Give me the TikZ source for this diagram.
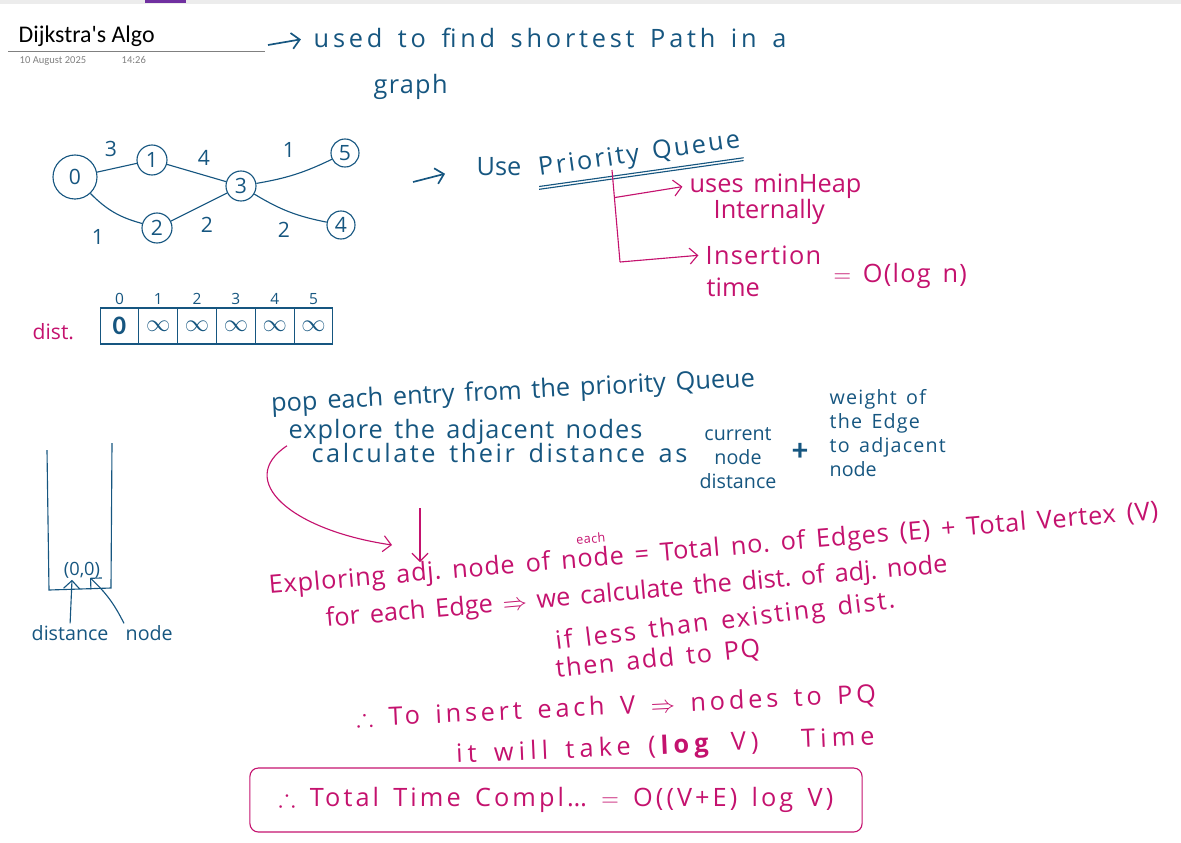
\documentclass[tikz,border=0pt]{standalone}
\usepackage{amsmath,amssymb}
\usepackage{fontspec}
\setmainfont{Carlito}
\newfontfamily\handfont{Open Sans}[WordSpace=1.5]
\newcommand{\track}[1]{\addfontfeatures{LetterSpace=#1}}
\usetikzlibrary{arrows.meta,positioning,calc}
\definecolor{ink}{RGB}{22,86,128}
\definecolor{pen}{RGB}{196,18,110}
\definecolor{tabline}{RGB}{112,48,160}

\begin{document}
\begin{tikzpicture}[x=0.025cm,y=-0.025cm,
  every node/.style={inner sep=1pt},
  hand/.style={font=\handfont\fontsize{18}{22}\selectfont,anchor=base west},
  blu/.style={hand,text=ink},
  pnk/.style={hand,text=pen},
  small/.style={font=\handfont\fontsize{14}{17}\selectfont},
  vtx/.style={draw=ink,circle,thick,minimum size=0.75cm,inner sep=0pt,text=ink,font=\handfont\fontsize{15}{15}\selectfont},
  wt/.style={text=ink,font=\handfont\fontsize{15}{15}\selectfont},
  cell/.style={draw=ink,thick,minimum width=0.97cm,minimum height=0.9cm,text=ink,font=\fontsize{19}{19}\selectfont},
  idx/.style={text=ink,font=\handfont\fontsize{11}{11}\selectfont},
  arr/.style={-{Straight Barb[length=2mm]},thick},
  edge/.style={draw=ink,thick}
]
  \useasboundingbox (0,0) rectangle (1181,842);
  \fill[gray!15] (0,0) rectangle (1181,4);
  \fill[tabline] (145,0) rectangle (186,3);

  \node[font=\fontsize{17}{20}\selectfont,anchor=base west] (title) at (17,42) {Dijkstra\textquotesingle s Algo};
  \draw[gray] (8,51) -- (265,51);
  \node[font=\fontsize{7.5}{9}\selectfont,text=gray,anchor=base west] (date) at (18,63) {10 August 2025};
  \node[font=\fontsize{7.5}{9}\selectfont,text=gray,anchor=base west] (clock) at (120,63) {14:26};

  \node[blu] (used) at (312,47) {\track{15}used to find shortest Path in a};
  \node[blu] (graph) at (372,93) {\track{5}graph};
  \coordinate (a0) at (268,45);
  \draw[arr,ink,line width=1.2pt,shorten >=8pt] (a0) -- (used.west);

  \node[vtx,minimum size=1.1cm] (n0) at (75,177) {0};
  \node[vtx] (n1) at (152,160) {1};
  \node[vtx] (n2) at (157,228) {2};
  \node[vtx] (n3) at (241,186) {3};
  \node[vtx,minimum size=0.7cm] (n5) at (345,153) {5};
  \node[vtx,minimum size=0.7cm] (n4) at (341,225) {4};
  \draw[edge] (n0) -- (n1);
  \draw[edge] (n0) to[bend right=15] (n2);
  \draw[edge] (n1) -- (n3);
  \draw[edge] (n2) -- (n3);
  \draw[edge] (n3) to[bend right=8] (n5);
  \draw[edge] (n3) to[bend right=10] (n4);
  \node[wt] (w01) at (111,149) {3};
  \node[wt] (w13) at (204,158) {4};
  \node[wt] (w35) at (289,150) {1};
  \node[wt] (w02) at (98,237) {1};
  \node[wt] (w23) at (207,225) {2};
  \node[wt] (w34) at (284,230) {2};

  \node[pnk,font=\handfont\fontsize{15}{15}\selectfont] (dist) at (31,339) {dist.};
  \foreach \v [count=\i from 0] in {$\mathbf{0}$,$\infty$,$\infty$,$\infty$,$\infty$,$\infty$}{
    \node[cell] (c\i) at (119.5+38.8*\i,326) {\v};
    \node[idx,above=1pt of c\i] (i\i) {\i};
  }

  \coordinate (a1) at (413,182);
  \node[blu] (use) at (475,175) {Use};
  \draw[arr,ink,line width=1.2pt,shorten >=22pt] (a1) -- (use.west);
  \node[blu,rotate=8] (pq) at (538,176) {\track{9}Priority Queue};
  \draw[ink,thick] ([yshift=-2pt]pq.south west) -- ([yshift=-2pt]pq.south east);
  \draw[ink,thick] ([yshift=-4pt]pq.south west) -- ([yshift=-4pt]pq.south east);

  \coordinate (b0) at (612,170);
  \coordinate (b1) at (620,262);
  \node[pnk] (heap) at (688,192) {uses minHeap};
  \node[pnk] (intl) at (712,218) {Internally};
  \node[pnk] (ins) at (704,264) {\track{5}Insertion};
  \node[pnk] (tm) at (705,296) {time};
  \node[pnk] (ologn) at (832,282) {\track{5}$=$ O(log n)};
  \draw[pen,thick] (b0) -- (b1);
  \draw[arr,pen,shorten >=4pt] ($(b0)!0.3!(b1)$) -- (heap.west);
  \draw[arr,pen,shorten >=4pt] (b1) -- (ins.west);

  \node[blu,rotate=3] (pop) at (270,412) {pop each entry from the priority Queue};
  \node[blu] (explore) at (287,438) {\track{4}explore the adjacent nodes};
  \node[blu] (calc) at (310,462) {\track{10}calculate their distance as};
  \node[text=ink,small,align=center] (cur) at (738,458) {current\\node\\distance};
  \node[text=ink,font=\bfseries\fontsize{22}{22}\selectfont] (plus) at (800,452) {+};
  \node[text=ink,small,align=left,anchor=north west] (wgt) at (828,388) {\track{6}weight of\\\track{6}the Edge\\\track{6}to adjacent\\node};

  \coordinate (hook) at (392,545);
  \coordinate (v0) at (420,508);
  \coordinate (v1) at (420,562);
  \draw[arr,pen] (explore.south west) .. controls (235,480) and (290,530) .. (hook);
  \draw[arr,pen] (v0) -- (v1);

  \node[pnk,rotate=4.8] (expl) at (268,594) {\track{3}Exploring adj.\ node of \shortstack{\small each\\node} = Total no.\ of Edges (E) + Total Vertex (V)};
  \node[pnk,rotate=5] (foredge) at (325,627) {for each Edge $\Rightarrow$ we calculate the dist.\ of adj.\ node};
  \node[pnk,rotate=7] (less) at (555,650) {\track{8}if less than existing dist.};
  \node[pnk,rotate=6] (addpq) at (555,678) {\track{6}then add to PQ};
  \node[pnk,rotate=2.7] (insert) at (355,727) {\track{15}$\therefore$ To insert each V $\Rightarrow$ nodes to PQ};
  \node[pnk,rotate=2.5] (take) at (455,763) {\track{20}it will take (\textbf{log} V) \quad Time};
  \node[pnk,anchor=center,draw=pen,thick,rounded corners=6pt,minimum width=15.3cm,minimum height=1.6cm] (total) at (556,800) {\track{12}$\therefore$ Total Time Compl\dots\ $=$ O((V+E) log V)};

  \draw[ink,thick] (47,450) -- (49,590) -- (111,588) -- (112,443);
  \node[text=ink,font=\handfont\fontsize{13}{13}\selectfont] (pair) at (82,570) {(0,0)};
  \node[text=ink,font=\handfont\fontsize{14}{14}\selectfont,anchor=base west] (dlab) at (30,640) {distance};
  \node[text=ink,font=\handfont\fontsize{14}{14}\selectfont,anchor=base west] (nlab) at (124,640) {node};
  \draw[arr,ink] (dlab.north) -- ($(pair.south)+(-10,0)$);
  \draw[arr,ink] (nlab.north west) to[bend right=10] ($(pair.south)+(8,-2)$);
\end{tikzpicture}
\end{document}
